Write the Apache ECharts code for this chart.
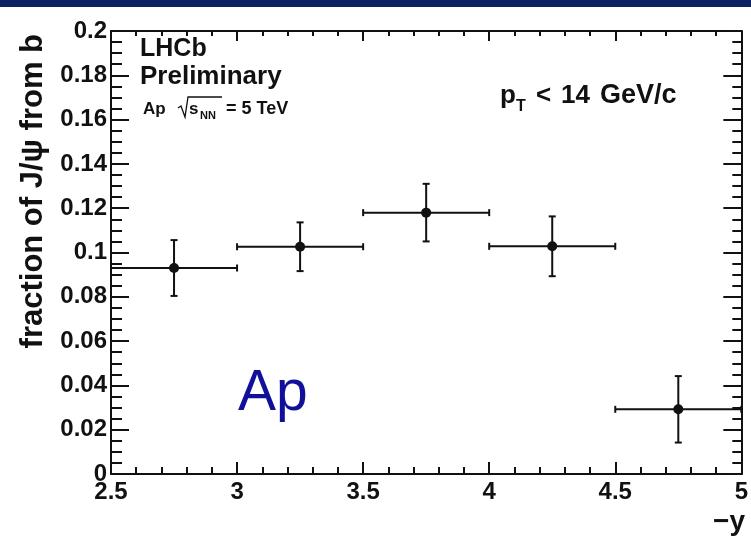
<!DOCTYPE html>
<html>
<head>
<meta charset="utf-8">
<script src="https://cdn.jsdelivr.net/npm/echarts@6/dist/echarts.min.js"></script>
<style>
  html, body { margin: 0; padding: 0; background: #ffffff; }
  #chart { width: 751px; height: 540px; }
</style>
</head>
<body>
<div id="chart"></div>
<script>
// Rapidity bins (-y): bin centres and half widths
const rapidityCentres = [2.75, 3.25, 3.75, 4.25, 4.75];
const binHalfWidths = [0.25, 0.25, 0.25, 0.25, 0.25];
// Fraction of J/psi from b-hadron decays and its uncertainty per bin
const fractionFromB = [0.093, 0.1026, 0.118, 0.1028, 0.0292];
const fractionErrors = [0.0126, 0.011, 0.013, 0.0135, 0.015];

// Axis ranges
const xRange = [2.5, 5];
const yRange = [0, 0.2];

const FONT = '"Liberation Sans", Arial, Helvetica, sans-serif';
const INK = '#111111';

const points = rapidityCentres.map((x, i) => [x, fractionFromB[i], binHalfWidths[i], fractionErrors[i]]);

function renderErrorPoint(params, api) {
  const x = api.value(0), y = api.value(1), dx = api.value(2), dy = api.value(3);
  const c = api.coord([x, y]);
  const l = api.coord([x - dx, y]);
  const r = api.coord([x + dx, y]);
  const t = api.coord([x, y + dy]);
  const b = api.coord([x, y - dy]);
  const cap = 3.5;
  const st = { stroke: INK, lineWidth: 2 };
  return {
    type: 'group',
    children: [
      { type: 'line', shape: { x1: l[0], y1: l[1], x2: r[0], y2: r[1] }, style: st },
      { type: 'line', shape: { x1: l[0], y1: l[1] - cap, x2: l[0], y2: l[1] + cap }, style: st },
      { type: 'line', shape: { x1: r[0], y1: r[1] - cap, x2: r[0], y2: r[1] + cap }, style: st },
      { type: 'line', shape: { x1: t[0], y1: t[1], x2: b[0], y2: b[1] }, style: st },
      { type: 'line', shape: { x1: t[0] - cap, y1: t[1], x2: t[0] + cap, y2: t[1] }, style: st },
      { type: 'line', shape: { x1: b[0] - cap, y1: b[1], x2: b[0] + cap, y2: b[1] }, style: st },
      { type: 'circle', shape: { cx: c[0], cy: c[1], r: 5 }, style: { fill: INK } }
    ]
  };
}

function frameAxis(extra) {
  return Object.assign({
    type: 'value',
    axisLine: { show: true, onZero: false, lineStyle: { color: INK, width: 2 } },
    splitLine: { show: false },
    minorSplitLine: { show: false }
  }, extra);
}

// text placed by its vertical middle
function label(x, y, text, font, fill, align) {
  return {
    type: 'text', x: x, y: y,
    style: { text: text, fill: fill || INK, font: font, textAlign: align || 'left', textVerticalAlign: 'middle' }
  };
}

const labelStyle = { color: INK, fontFamily: FONT, fontWeight: 'bold', fontSize: 24 };

const chart = echarts.init(document.getElementById('chart'), null, { renderer: 'canvas' });

chart.setOption({
  animation: false,
  backgroundColor: '#ffffff',
  grid: { left: 111, right: 5, top: 31, bottom: 66, containLabel: false },
  xAxis: [
    frameAxis({
      min: xRange[0], max: xRange[1], interval: 0.5, position: 'bottom',
      axisTick: { show: true, inside: true, length: 12, lineStyle: { color: INK, width: 2 } },
      minorTick: { show: true, splitNumber: 5, length: 7, lineStyle: { color: INK, width: 2 } },
      axisLabel: Object.assign({ show: true, margin: 6, showMinLabel: true, showMaxLabel: true }, labelStyle)
    }),
    frameAxis({
      min: xRange[0], max: xRange[1], interval: 0.5, position: 'top',
      axisTick: { show: true, inside: true, length: 10, lineStyle: { color: INK, width: 2 } },
      minorTick: { show: true, splitNumber: 5, length: 5, lineStyle: { color: INK, width: 2 } },
      axisLabel: { show: false }
    })
  ],
  yAxis: [
    frameAxis({
      min: yRange[0], max: yRange[1], interval: 0.02, position: 'left',
      axisTick: { show: true, inside: true, length: 18, lineStyle: { color: INK, width: 2 } },
      minorTick: { show: true, splitNumber: 4, length: 11, lineStyle: { color: INK, width: 2 } },
      axisLabel: Object.assign({ show: true, margin: 4, showMinLabel: true, showMaxLabel: true }, labelStyle)
    }),
    frameAxis({
      min: yRange[0], max: yRange[1], interval: 0.02, position: 'right',
      axisTick: { show: true, inside: true, length: 18, lineStyle: { color: INK, width: 2 } },
      minorTick: { show: true, splitNumber: 4, length: 9, lineStyle: { color: INK, width: 2 } },
      axisLabel: { show: false }
    })
  ],
  series: [{
    type: 'custom',
    xAxisIndex: 0,
    yAxisIndex: 0,
    clip: false,
    renderItem: renderErrorPoint,
    data: points,
    z: 10
  }],
  graphic: [
    // header band
    { type: 'rect', left: 0, top: 0, shape: { width: 751, height: 7 }, style: { fill: '#0b2161' }, silent: true },
    // y-axis title
    { type: 'text', x: 33, y: 34, rotation: Math.PI / 2,
      style: { text: 'fraction of J/\u03C8 from b', fill: INK, font: 'bold 31px ' + FONT, textAlign: 'right', textVerticalAlign: 'middle' } },
    // x-axis title
    label(745, 522, '\u2212y', 'bold 28px ' + FONT, INK, 'right'),
    // experiment labels
    label(140, 49, 'LHCb', 'bold 25px ' + FONT),
    label(140, 77, 'Preliminary', 'bold 26px ' + FONT),
    label(143, 109, 'Ap', 'bold 17px ' + FONT),
    { type: 'polyline', shape: { points: [[178, 108], [181, 106], [185, 117], [188, 97], [222, 97]] },
      style: { stroke: INK, lineWidth: 1.3, fill: null } },
    label(189, 109, 's', 'bold 17px ' + FONT),
    label(200, 116, 'NN', 'bold 11px ' + FONT),
    label(226, 109, '= 5 TeV', 'bold 18px ' + FONT),
    // kinematic range
    label(500, 96, 'p', 'bold 26px ' + FONT),
    label(516, 107, 'T', 'bold 16px ' + FONT),
    label(536, 96, '<', 'bold 26px ' + FONT),
    label(561, 96, '14', 'bold 26px ' + FONT),
    label(600, 96, 'GeV/c', 'bold 27px ' + FONT),
    // collision system tag
    label(238, 394, 'Ap', '57px ' + FONT, '#10109a')
  ]
});
</script>
</body>
</html>
